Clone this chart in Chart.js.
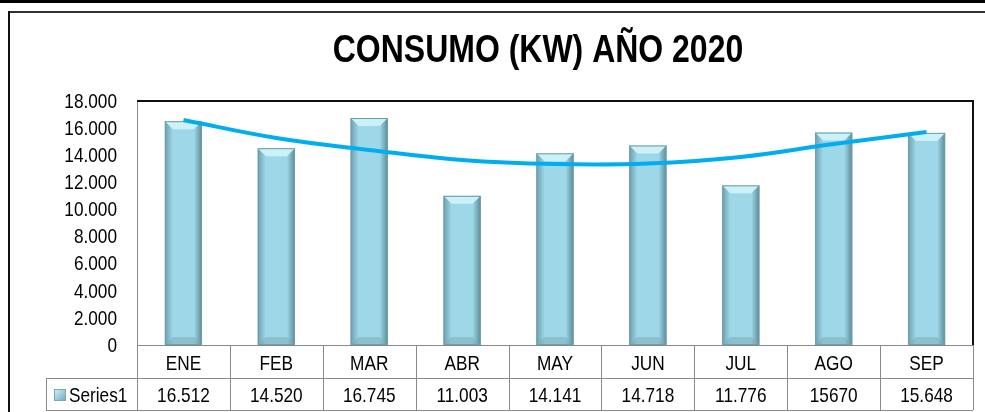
<!DOCTYPE html>
<html>
<head>
<meta charset="utf-8">
<script src="https://cdn.jsdelivr.net/npm/chart.js@4.4.0/dist/chart.umd.min.js"></script>
<style>
    html, body { margin: 0; padding: 0; background: #fff; }
    #wrap { width: 985px; height: 412px; }
</style>
</head>
<body>
<div id="wrap"><canvas id="myChart" width="985" height="412"></canvas></div>
<script>
// datos
const meses = ['ENE', 'FEB', 'MAR', 'ABR', 'MAY', 'JUN', 'JUL', 'AGO', 'SEP'];
const consumo = [16512, 14520, 16745, 11003, 14141, 14718, 11776, 15670, 15648];
const textosTabla = ['16.512', '14.520', '16.745', '11.003', '14.141', '14.718', '11.776', '15670', '15.648'];
const tendencia = [16600, 15270, 14390, 13650, 13350, 13390, 13870, 14830, 15710];
const yTicks = [0, 2000, 4000, 6000, 8000, 10000, 12000, 14000, 16000, 18000];
const titulo = 'CONSUMO (KW) AÑO 2020';

const fuente = "'Liberation Sans', Arial, sans-serif";
const estrecho = 0.82; // la fuente original es condensada

function textoEstrecho(c, txt, x, y, align) {
    c.save();
    c.translate(x, y);
    c.scale(estrecho, 1);
    c.textAlign = align;
    c.fillText(txt, 0, 0);
    c.restore();
}

const marco = {
    id: 'marco',
    beforeDraw(chart) {
        const c = chart.ctx;
        c.save();
        c.fillStyle = '#fff';
        c.fillRect(0, 0, chart.width, chart.height);
        c.fillStyle = '#000';
        c.fillRect(0, 0, chart.width, 3);
        c.fillStyle = '#333';
        c.fillRect(8, 11, chart.width - 8, 2);
        c.fillStyle = '#111';
        c.fillRect(8, 11, 2, chart.height - 11);
        // titulo
        c.fillStyle = '#000';
        c.font = 'bold 39px ' + fuente;
        c.textBaseline = 'alphabetic';
        textoEstrecho(c, titulo, 538, 62, 'center');
        c.restore();
    }
};

const bisel = {
    id: 'bisel',
    afterDatasetDraw(chart, args) {
        if (args.meta.type !== 'bar') return;
        const c = chart.ctx;
        c.save();
        for (let bar of args.meta.data) {
            const w = bar.width;
            const l = bar.x - w / 2, r = bar.x + w / 2;
            const t = bar.y, b = bar.base;
            const bv = 8;
            // lados oscuros
            let g = c.createLinearGradient(l, 0, l + bv, 0);
            g.addColorStop(0, 'rgba(90,140,155,0.75)');
            g.addColorStop(1, 'rgba(90,140,155,0)');
            c.fillStyle = g;
            c.fillRect(l, t, bv, b - t);
            g = c.createLinearGradient(r, 0, r - bv, 0);
            g.addColorStop(0, 'rgba(80,125,140,0.85)');
            g.addColorStop(1, 'rgba(80,125,140,0)');
            c.fillStyle = g;
            c.fillRect(r - bv, t, bv, b - t);
            // tapa clara
            c.beginPath();
            c.moveTo(l, t);
            c.lineTo(r, t);
            c.lineTo(r - bv, t + bv);
            c.lineTo(l + bv, t + bv);
            c.closePath();
            c.fillStyle = '#CBF1F9';
            c.fill();
            // base
            c.beginPath();
            c.moveTo(l, b);
            c.lineTo(r, b);
            c.lineTo(r - bv, b - bv);
            c.lineTo(l + bv, b - bv);
            c.closePath();
            c.fillStyle = 'rgba(120,170,185,0.5)';
            c.fill();
            c.strokeStyle = '#6F9CA8';
            c.lineWidth = 1;
            c.strokeRect(l + 0.5, t + 0.5, w - 1, b - t - 1);
        }
        c.restore();
    }
};

const tabla = {
    id: 'tabla',
    afterDraw(chart) {
        const c = chart.ctx;
        const a = chart.chartArea;
        const x = chart.scales.x;
        const y = chart.scales.y;
        const n = meses.length;
        const paso = (a.right - a.left) / n;
        const fila1 = a.bottom + 33;
        const fila2 = a.bottom + 65;
        c.save();
        c.strokeStyle = '#8a8a8a';
        c.lineWidth = 1;
        c.beginPath();
        c.moveTo(a.left + 0.5, a.top);
        c.lineTo(a.left + 0.5, fila2);
        c.moveTo(a.left, a.bottom + 0.5);
        c.lineTo(a.right, a.bottom + 0.5);
        c.moveTo(46, fila1 + 0.5);
        c.lineTo(a.right, fila1 + 0.5);
        c.moveTo(46, fila2 + 0.5);
        c.lineTo(a.right, fila2 + 0.5);
        c.moveTo(46.5, fila1);
        c.lineTo(46.5, fila2);
        for (let i = 1; i <= n; i++) {
            const xx = Math.round(a.left + i * paso) + 0.5;
            c.moveTo(xx, a.bottom);
            c.lineTo(xx, fila2);
        }
        c.stroke();
        // borde superior y derecho del area
        c.fillStyle = '#111';
        c.fillRect(a.left, a.top - 1, a.right - a.left + 1, 2);
        c.fillRect(a.right - 1, a.top - 1, 2, a.bottom - a.top + 1);

        // leyenda
        let g = c.createLinearGradient(54, 389, 66, 401);
        g.addColorStop(0, '#D4F4FB');
        g.addColorStop(1, '#6FA6B6');
        c.fillStyle = g;
        c.fillRect(54, 389, 12, 12);
        c.strokeStyle = '#7AA8B5';
        c.strokeRect(54.5, 389.5, 11, 11);

        c.fillStyle = '#000';
        c.font = '21px ' + fuente;
        // etiquetas del eje y
        c.textBaseline = 'middle';
        for (let t of y.ticks) {
            textoEstrecho(c, t.label, y.right - 20, y.getPixelForValue(t.value) + 1, 'right');
        }
        // meses y valores
        c.textBaseline = 'alphabetic';
        for (let i = 0; i < n; i++) {
            const cx = x.getPixelForValue(i);
            textoEstrecho(c, x.getLabelForValue(i), cx, a.bottom + 25, 'center');
            textoEstrecho(c, textosTabla[i], cx, fila2 - 8, 'center');
        }
        textoEstrecho(c, 'Series1', 69, fila2 - 8, 'left');
        c.restore();
    }
};

const ctx = document.getElementById('myChart').getContext('2d');

new Chart(ctx, {
    data: {
        labels: meses,
        datasets: [{
            type: 'line',
            label: 'Tendencia',
            data: tendencia,
            borderColor: '#00AEEF',
            borderWidth: 4,
            pointRadius: 0,
            tension: 0.4,
            fill: false,
            order: 0
        },
        {
            type: 'bar',
            label: 'Series1',
            data: consumo,
            backgroundColor: '#9ED7E7',
            borderWidth: 0,
            barPercentage: 0.4,
            categoryPercentage: 1,
            order: 1
        }]
    },
    options: {
        responsive: false,
        devicePixelRatio: 1,
        animation: false,
        layout: { padding: { left: 0, right: 12, top: 101, bottom: 0 } },
        plugins: {
            legend: { display: false },
            tooltip: { enabled: false },
            title: { display: false }
        },
        scales: {
            x: {
                grid: { display: false },
                border: { display: false },
                ticks: { display: false },
                afterFit(s) { s.height = 67; }
            },
            y: {
                min: 0,
                max: 18000,
                afterBuildTicks(s) { s.ticks = yTicks.map(v => ({ value: v })); },
                grid: { display: false },
                border: { display: false },
                ticks: {
                    display: false,
                    autoSkip: false,
                    callback: v => v.toLocaleString('de-DE')
                },
                afterFit(s) { s.width = 137; }
            }
        }
    },
    plugins: [marco, bisel, tabla]
});
</script>
</body>
</html>
